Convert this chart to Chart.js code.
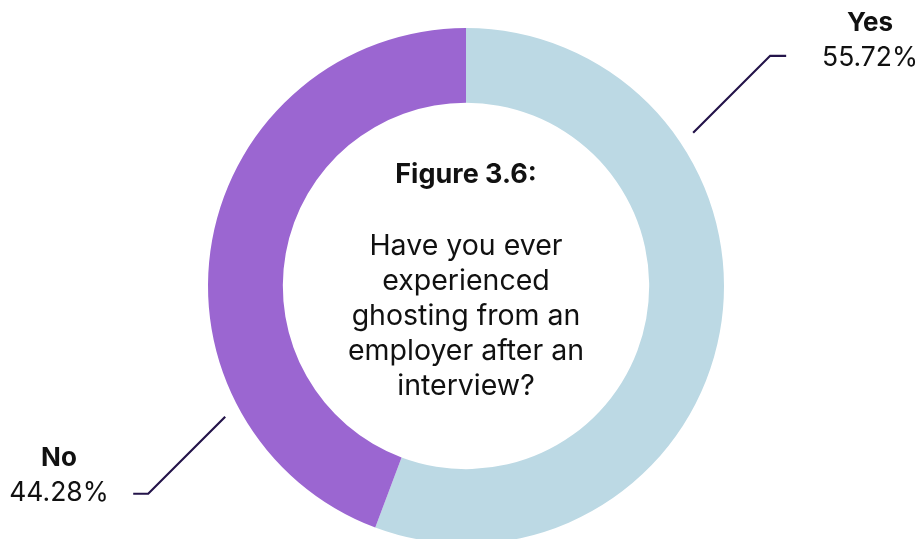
<!DOCTYPE html>
<html>
<head>
<meta charset="utf-8">
<script src="https://cdn.jsdelivr.net/npm/chart.js@4.4.1/dist/chart.umd.min.js"></script>
<style>
  html, body { margin: 0; padding: 0; background: #fff; overflow: hidden; }
  .wrap { position: relative; width: 922px; height: 572px; }
</style>
</head>
<body>
<div class="wrap"><canvas id="ghostChart"></canvas></div>
<script>
// survey answers
const answers = ["Yes", "No"];
const shares = [55.72, 44.28];
const sliceColors = ["#bcd9e4", "#9b66d1"];

const titleLine = "Figure 3.6:";
const questionLines = ["Have you ever", "experienced", "ghosting from an", "employer after an", "interview?"];

const FONT = "Inter, 'DejaVu Sans', sans-serif";

// where each callout leaves the ring (degrees, 0 = right, clockwise) and which way it bends
const callouts = [
  { angle: -34, dir: 1, rise: 77, tail: 16, textX: 870, nameY: 23, valY: 58 },
  { angle: 151.5, dir: -1, rise: 77, tail: 15, textX: 59, nameY: 458, valY: 493 }
];

// center text + leader lines with labels
const ringText = {
  id: "ringText",
  afterDraw(chart) {
    const ctx = chart.ctx;
    const arcs = chart.getDatasetMeta(0).data;
    const cx = arcs[0].x, cy = arcs[0].y, r = arcs[0].outerRadius;

    ctx.save();
    ctx.fillStyle = "#111";
    ctx.textAlign = "center";
    ctx.textBaseline = "middle";
    ctx.font = "bold 27px " + FONT;
    ctx.fillText(titleLine, cx, 175);
    ctx.font = "28.5px " + FONT;
    questionLines.forEach((ln, i) => ctx.fillText(ln, cx, 246 + i * 35.2));

    answers.forEach((name, i) => {
      const c = callouts[i];
      const a = c.angle * Math.PI / 180;
      const x0 = cx + Math.cos(a) * (r + 16);
      const y0 = cy + Math.sin(a) * (r + 16);
      const up = c.dir > 0 ? -1 : 1;
      const x1 = x0 + c.dir * c.rise;
      const y1 = y0 + up * c.rise;
      ctx.strokeStyle = "#24144a";
      ctx.lineWidth = 2.2;
      ctx.beginPath();
      ctx.moveTo(x0, y0);
      ctx.lineTo(x1, y1);
      ctx.lineTo(x1 + c.dir * c.tail, y1);
      ctx.stroke();

      ctx.fillStyle = "#111";
      ctx.font = "bold 26px " + FONT;
      ctx.fillText(name, c.textX, c.nameY);
      ctx.font = "26.5px " + FONT;
      ctx.fillText(shares[i].toFixed(2) + "%", c.textX, c.valY);
    });
    ctx.restore();
  }
};

new Chart("ghostChart", {
  type: "doughnut",
  data: {
    labels: answers,
    datasets: [{
      data: shares,
      backgroundColor: sliceColors,
      borderWidth: 0
    }]
  },
  options: {
    responsive: true,
    maintainAspectRatio: false,
    animation: false,
    cutout: "71%",
    layout: { padding: { top: 28, bottom: 28, left: 10, right: 0 } },
    plugins: {
      legend: { display: false },
      tooltip: { enabled: false }
    }
  },
  plugins: [ringText]
});
</script>
</body>
</html>
